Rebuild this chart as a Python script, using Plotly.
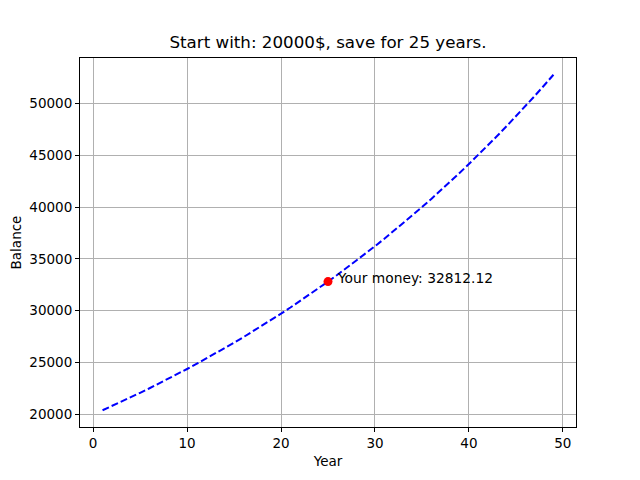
import plotly.graph_objects as go

years = list(range(1, 50))
balance = [20400.00, 20808.00, 21224.16, 21648.64, 22081.62, 22523.25, 22973.71, 23433.19,
           23901.85, 24379.89, 24867.49, 25364.84, 25872.14, 26389.58, 26917.37, 27455.72,
           28004.83, 28564.93, 29136.23, 29718.95, 30313.33, 30919.60, 31537.99, 32168.75,
           32812.12, 33468.37, 34137.73, 34820.49, 35516.90, 36227.24, 36951.78, 37690.82,
           38444.63, 39213.53, 39997.80, 40797.76, 41613.71, 42445.99, 43294.91, 44160.81,
           45044.03, 45944.91, 46863.81, 47801.08, 48757.10, 49732.24, 50726.89, 51741.42,
           52776.25]
target_year = [25]
target_money = [32812.12]
label = "Your money: 32812.12"
title = "Start with: 20000$, save for 25 years."
x_ticks = [0, 10, 20, 30, 40, 50]
y_ticks = [20000, 25000, 30000, 35000, 40000, 45000, 50000]

FONT = "DejaVu Sans"
W, H = 624, 464

fig = go.Figure()
fig.add_trace(go.Scatter(x=years, y=balance, mode="lines",
                         line=dict(color="blue", width=2, dash="7px,3px"),
                         showlegend=False))
fig.add_trace(go.Scatter(x=target_year, y=target_money, mode="markers",
                         marker=dict(color="red", size=9), showlegend=False))
fig.add_annotation(x=target_year[0] + 1, y=target_money[0], text=label,
                   showarrow=False, xanchor="left", yanchor="middle", xshift=-2, yshift=4,
                   font=dict(size=13.8, color="black", family=FONT))

axis_common = dict(showgrid=True, gridcolor="#b0b0b0", gridwidth=1,
                   showline=True, linecolor="black", linewidth=1, mirror=True,
                   ticks="outside", ticklen=4, tickcolor="black", automargin=False,
                   zeroline=False, tickfont=dict(size=13.5, color="black", family=FONT),
                   title_font=dict(size=13.5, color="black", family=FONT))

fig.update_layout(
    width=W, height=H,
    margin=dict(l=72, r=56, t=50, b=45),
    paper_bgcolor="white", plot_bgcolor="white",
    title=dict(text=title, x=(328 - 8) / W, xanchor="center", y=1 - 34 / H, yanchor="middle",
               font=dict(size=16.7, color="black", family=FONT)),
    xaxis=dict(range=[-1.4, 51.4], tickvals=x_ticks, tickformat="d",
               title=dict(text="Year", standoff=6), **axis_common),
    yaxis=dict(range=[18781, 54395], tickvals=y_ticks, tickformat="d",
               title=dict(text="Balance", standoff=8), **axis_common),
)
fig.write_html("out.html")
